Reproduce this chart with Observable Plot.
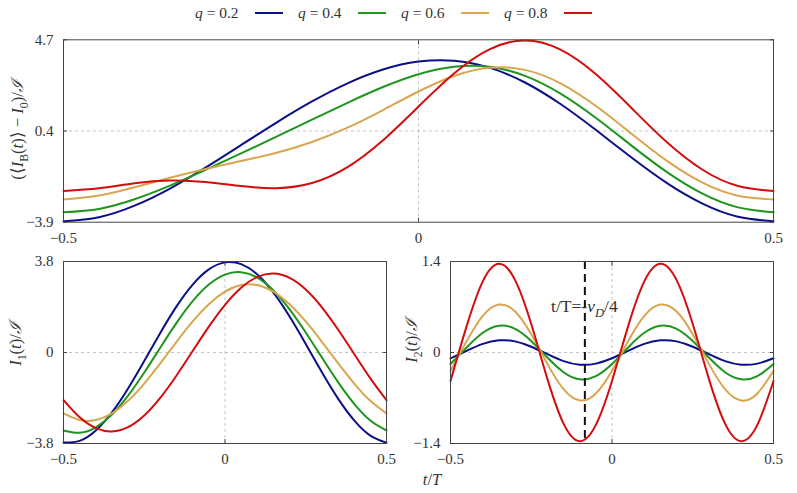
<!DOCTYPE html>
<html><head><meta charset="utf-8">
<script src="https://cdn.jsdelivr.net/npm/d3@7"></script>
<script src="https://cdn.jsdelivr.net/npm/@observablehq/plot@0.6"></script>
<style>
body{margin:0;background:#fff;}
#fig{position:relative;width:797px;height:493px;font-family:"Liberation Serif",serif;color:#333;overflow:hidden;}
#fig svg, #fig svg text, #fig svg tspan{font-family:"Liberation Serif",serif !important;}
#legend{position:absolute;top:3px;left:195px;display:flex;align-items:center;font-size:15.5px;height:20px;z-index:2;}
.item{display:flex;align-items:center;margin-right:15px;}
.lab{display:inline-block;width:48px;white-space:nowrap;}
.swatch{display:inline-block;width:28px;height:2px;margin-left:12px;}
.panel{position:absolute;}
.panel svg{overflow:visible;}
</style></head><body>
<div id="fig"><div id="legend"></div></div>
<script>
// ---- data ----
const tValues = [-0.5,-0.45,-0.4,-0.35,-0.3,-0.25,-0.2,-0.15,-0.1,-0.05,0,0.05,0.1,0.15,0.2,0.25,0.3,0.35,0.4,0.45,0.5];
const qLabels = ["0.2","0.4","0.6","0.8"];
const seriesColors = ["#0a1088","#1f951f","#d9a54f","#d30d0d"];
const xTicks = [-0.5, 0, 0.5];
const topYTicks = [-3.9, 0.4, 4.7];
const i1YTicks = [-3.8, 0, 3.8];
const i2YTicks = [-1.4, 0, 1.4];
const markerT = -0.084;
const markerLabelY = 0.62;

// top panel: (<I_B(t)> - I_0)/I
const topQ02 = [-3.852,-3.663,-3.122,-2.313,-1.330,-0.267,0.799,1.792,2.648,3.298,3.674,3.715,3.386,2.687,1.672,0.445,-0.851,-2.056,-3.022,-3.640,-3.852];
const topQ04 = [-3.431,-3.275,-2.821,-2.177,-1.436,-0.659,0.133,0.934,1.730,2.473,3.077,3.431,3.427,3.001,2.164,1.013,-0.289,-1.540,-2.554,-3.201,-3.431];
const topQ06 = [-2.825,-2.645,-2.256,-1.806,-1.389,-1.015,-0.622,-0.117,0.558,1.389,2.263,2.995,3.384,3.282,2.649,1.577,0.272,-1.011,-2.034,-2.649,-2.825];
const topQ08 = [-2.428,-2.300,-2.063,-1.934,-2.005,-2.195,-2.295,-2.054,-1.303,-0.035,1.552,3.112,4.251,4.664,4.233,3.071,1.483,-0.134,-1.427,-2.193,-2.428];

// bottom-left: I_1(t)/I
const i1Q02 = [-3.763,-3.689,-3.254,-2.500,-1.501,-0.356,0.825,1.924,2.835,3.469,3.763,3.689,3.254,2.500,1.501,0.356,-0.825,-1.924,-2.835,-3.469,-3.763];
const i1Q04 = [-3.254,-3.353,-3.124,-2.589,-1.800,-0.836,0.211,1.237,2.142,2.837,3.254,3.353,3.124,2.589,1.800,0.836,-0.211,-1.237,-2.142,-2.837,-3.254];
const i1Q06 = [-2.544,-2.820,-2.820,-2.544,-2.019,-1.296,-0.447,0.447,1.296,2.019,2.544,2.820,2.820,2.544,2.019,1.296,0.447,-0.447,-1.296,-2.019,-2.544];
const i1Q08 = [-1.990,-2.706,-3.157,-3.299,-3.119,-2.633,-1.889,-0.960,0.062,1.079,1.990,2.706,3.157,3.299,3.119,2.633,1.889,0.960,-0.062,-1.079,-1.990];

// bottom-right: I_2(t)/I
const i2Q02 = [-0.089,0.026,0.132,0.187,0.171,0.089,-0.026,-0.132,-0.187,-0.171,-0.089,0.026,0.132,0.187,0.171,0.089,-0.026,-0.132,-0.187,-0.171,-0.089];
const i2Q04 = [-0.177,0.078,0.303,0.412,0.364,0.177,-0.078,-0.303,-0.412,-0.364,-0.177,0.078,0.303,0.412,0.364,0.177,-0.078,-0.303,-0.412,-0.364,-0.177];
const i2Q06 = [-0.281,0.175,0.564,0.738,0.630,0.281,-0.175,-0.564,-0.738,-0.630,-0.281,0.175,0.564,0.738,0.630,0.281,-0.175,-0.564,-0.738,-0.630,-0.281];
const i2Q08 = [-0.438,0.406,1.094,1.365,1.114,0.438,-0.406,-1.094,-1.365,-1.114,-0.438,0.406,1.094,1.365,1.114,0.438,-0.406,-1.094,-1.365,-1.114,-0.438];

// ---- helpers ----
const FONT = '"Liberation Serif", serif';
const fmt = d => d === 0 ? "0" : (d < 0 ? "\u2212" : "") + Math.abs(d);

function richText(svg, x, y, parts, {rotate = false, size = 15, anchor = "middle"} = {}) {
  const text = d3.select(svg).append("text")
    .attr("transform", `translate(${x},${y})` + (rotate ? " rotate(-90)" : ""))
    .attr("text-anchor", anchor).attr("font-size", size).attr("fill", "#333")
    .style("font-family", FONT);
  let shift = 0;
  for (const [s, kind = ""] of parts) {
    const ts = text.append("tspan").text(s);
    let target = 0;
    if (kind.includes("i")) ts.attr("font-style", "italic");
    if (kind.includes("sub")) { target = size * 0.3; ts.attr("font-size", size * 0.72); }
    if (target !== shift) { ts.attr("dy", target - shift); shift = target; }
  }
  return text;
}

function makePanel(cfg) {
  const grid = {stroke: "#b5b5b5", strokeWidth: 0.8, strokeDasharray: "3,3"};
  const noText = () => "";
  const marks = [
    Plot.ruleX([xTicks[1]], grid),
    Plot.ruleY([cfg.yTicks[1]], grid),
    ...cfg.series.map((vals, k) => Plot.line(
      tValues.map((t, i) => ({t, v: vals[i]})),
      {x: "t", y: "v", stroke: seriesColors[k], strokeWidth: 2, curve: "natural"})),
    ...(cfg.extra || []),
    Plot.frame({stroke: "#444", strokeWidth: 1}),
    Plot.axisX({anchor: "bottom", ticks: xTicks, tickSize: 0, tickPadding: 10, tickFormat: fmt, label: null, fontSize: 15}),
    Plot.axisY({anchor: "left", ticks: cfg.yTicks, tickSize: 0, tickPadding: 10, tickFormat: fmt, label: null, fontSize: 15}),
    Plot.axisX({anchor: "top", ticks: xTicks, tickSize: -4, tickFormat: noText, label: null, stroke: "#444"}),
    Plot.axisX({anchor: "bottom", ticks: xTicks, tickSize: -4, tickFormat: noText, label: null, stroke: "#444"}),
    Plot.axisY({anchor: "right", ticks: cfg.yTicks, tickSize: -4, tickFormat: noText, label: null, stroke: "#444"}),
    Plot.axisY({anchor: "left", ticks: cfg.yTicks, tickSize: -4, tickFormat: noText, label: null, stroke: "#444"})
  ];
  const svg = Plot.plot({
    width: cfg.width, height: cfg.height,
    marginLeft: cfg.m[0], marginRight: cfg.m[1], marginTop: cfg.m[2], marginBottom: cfg.m[3],
    x: {domain: [xTicks[0], xTicks[2]]},
    y: {domain: [cfg.yTicks[0], cfg.yTicks[2]]},
    style: 'font-family: "Liberation Serif", serif; font-size: 15px; color: #333; background: transparent; overflow: visible;',
    marks
  });
  const div = document.createElement("div");
  div.className = "panel";
  div.style.left = cfg.left + "px";
  div.style.top = cfg.top + "px";
  div.appendChild(svg);
  document.getElementById("fig").appendChild(div);
  return svg;
}

// ---- legend ----
const legend = d3.select("#legend");
qLabels.forEach((q, k) => {
  const it = legend.append("div").attr("class", "item");
  const lab = it.append("span").attr("class", "lab");
  lab.append("i").text("q");
  lab.append("span").text(" = " + q);
  it.append("span").attr("class", "swatch").style("background", seriesColors[k]);
});

// ---- panels ----
const topSvg = makePanel({
  left: 0, top: 0, width: 797, height: 250, m: [63, 24, 39.3, 28.3],
  yTicks: topYTicks, series: [topQ02, topQ04, topQ06, topQ08]
});
richText(topSvg, 23, 130, [["(\u27E8"], ["I", "i"], ["B", "sub"], ["("], ["t", "i"], [")\u27E9 \u2212 "], ["I", "i"], ["0", "sub"], [")/"], ["\u2110", "i"]], {rotate: true, size: 16.5});

const leftSvg = makePanel({
  left: 0, top: 250, width: 400, height: 243, m: [63, 14, 11, 50],
  yTicks: i1YTicks, series: [i1Q02, i1Q04, i1Q06, i1Q08]
});
richText(leftSvg, 21, 94, [["I", "i"], ["1", "sub"], ["("], ["t", "i"], [")/"], ["\u2110", "i"]], {rotate: true, size: 16.5});

const rightSvg = makePanel({
  left: 400, top: 250, width: 397, height: 243, m: [50, 24, 11, 50],
  yTicks: i2YTicks, series: [i2Q02, i2Q04, i2Q06, i2Q08],
  extra: [Plot.ruleX([markerT], {stroke: "#111", strokeWidth: 2, strokeDasharray: "8,5"})]
});
richText(rightSvg, 17, 91, [["I", "i"], ["2", "sub"], ["("], ["t", "i"], [")/"], ["\u2110", "i"]], {rotate: true, size: 16.5});
// x-axis title
richText(rightSvg, 32, 235, [["t", "i"], ["/"], ["T", "i"]], {size: 16.5});
// annotation at the dashed marker
{
  const sx = rightSvg.scale("x"), sy = rightSvg.scale("y");
  richText(rightSvg, sx.apply(markerT), sy.apply(markerLabelY),
    [["t/T=-"], ["\u03BD", "i"], ["D", "isub"], ["/4"]], {size: 17.5});
}
</script>
</body></html>
